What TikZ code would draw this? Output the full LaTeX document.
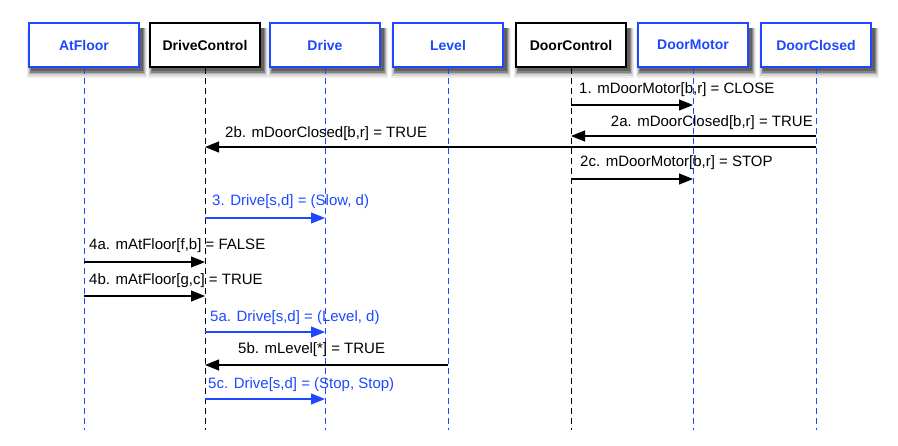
\documentclass[tikz,border=0pt]{standalone}
\usepackage{fontspec}
\setmainfont{Liberation Sans}
\usetikzlibrary{arrows.meta,backgrounds}
\definecolor{sigblue}{RGB}{28,72,255}
\tikzset{
  actor/.style={draw, line width=1.1pt, fill=white, minimum width=110pt, minimum height=44pt,
    inner sep=0pt, font=\fontsize{14}{16}\selectfont\bfseries},
  blueactor/.style={actor, draw=sigblue, text=sigblue},
  blackactor/.style={actor, draw=black, text=black},
  life/.style={line width=0.9pt, dash pattern=on 6pt off 4pt},
  msg/.style={line width=1.1pt, -{Triangle[length=14pt,width=11pt]}},
  lbl/.style={font=\fontsize{15}{17}\selectfont, inner sep=0pt}
}
\begin{document}
\begin{tikzpicture}[x=1pt, y=-1pt]
\useasboundingbox (0,0) rectangle (898,445);

% participants
\node[blueactor]  (af) at (84,45)    {AtFloor};
\node[blackactor] (dc) at (205,45)   {DriveControl};
\node[blueactor]  (dr) at (325,45)   {Drive};
\node[blueactor]  (lv) at (448,45)   {Level};
\node[blackactor] (oc) at (571,45)   {DoorControl};
\node[blueactor]  (dm) at (693,45)   {DoorMotor};
\node[blueactor]  (cl) at (816,45)   {DoorClosed};

% soft drop shadows under the participant boxes
\begin{scope}[on background layer]
  \foreach \p in {af, dc, dr, lv, oc, dm, cl} {
    \fill[black!7]  ([shift={(-1,6)}]\p.north west) rectangle ([shift={(7,10)}]\p.south east);
    \fill[black!16] ([shift={(0,6)}]\p.north west)  rectangle ([shift={(6,8)}]\p.south east);
    \fill[black!30] ([shift={(1,6)}]\p.north west)  rectangle ([shift={(5,6.5)}]\p.south east);
    \fill[black!48] ([shift={(2,6)}]\p.north west)  rectangle ([shift={(4,5)}]\p.south east);
    \fill[black!62] ([shift={(3,6)}]\p.north west)  rectangle ([shift={(3,3.5)}]\p.south east);
  }
\end{scope}

% lifelines
\coordinate (bottom) at (0,430);
\foreach \p/\c in {af/sigblue, dc/black, dr/sigblue, lv/sigblue, oc/black, dm/sigblue, cl/sigblue}
  \draw[life, \c] (\p.south) -- (\p |- bottom);

% message rows
\coordinate (r1) at (0,105);
\coordinate (r2a) at (0,136);
\coordinate (r2b) at (0,147);
\coordinate (r2c) at (0,179);
\coordinate (r3) at (0,218);
\coordinate (r4a) at (0,262);
\coordinate (r4b) at (0,296);
\coordinate (r5a) at (0,332);
\coordinate (r5b) at (0,365);
\coordinate (r5c) at (0,399);

% messages
\draw[msg] (oc |- r1) -- (dm |- r1);
\node[lbl, anchor=west] (t1) at (579,90) {1. mDoorMotor[b,r] = CLOSE};

\draw[msg] (cl |- r2a) -- (oc |- r2a);
\node[lbl, anchor=east] (t2a) at (813,123) {2a. mDoorClosed[b,r] = TRUE};

\draw[msg] (cl |- r2b) -- (dc |- r2b);
\node[lbl, anchor=west] (t2b) at (225,134) {2b. mDoorClosed[b,r] = TRUE};

\draw[msg] (oc |- r2c) -- (dm |- r2c);
\node[lbl, anchor=west] (t2c) at (580,163) {2c. mDoorMotor[b,r] = STOP};

\draw[msg, sigblue] (dc |- r3) -- (dr |- r3);
\node[lbl, anchor=west, text=sigblue] (t3) at (212,202) {3. Drive[s,d] = (Slow, d)};

\draw[msg] (af |- r4a) -- (dc |- r4a);
\node[lbl, anchor=west] (t4a) at (89,246) {4a. mAtFloor[f,b] = FALSE};

\draw[msg] (af |- r4b) -- (dc |- r4b);
\node[lbl, anchor=west] (t4b) at (89,281) {4b. mAtFloor[g,c] = TRUE};

\draw[msg, sigblue] (dc |- r5a) -- (dr |- r5a);
\node[lbl, anchor=west, text=sigblue] (t5a) at (210,318) {5a. Drive[s,d] = (Level, d)};

\draw[msg] (lv |- r5b) -- (dc |- r5b);
\node[lbl, anchor=west] (t5b) at (238,350) {5b. mLevel[*] = TRUE};

\draw[msg, sigblue] (dc |- r5c) -- (dr |- r5c);
\node[lbl, anchor=west, text=sigblue] (t5c) at (208,385) {5c. Drive[s,d] = (Stop, Stop)};
\end{tikzpicture}
\end{document}
